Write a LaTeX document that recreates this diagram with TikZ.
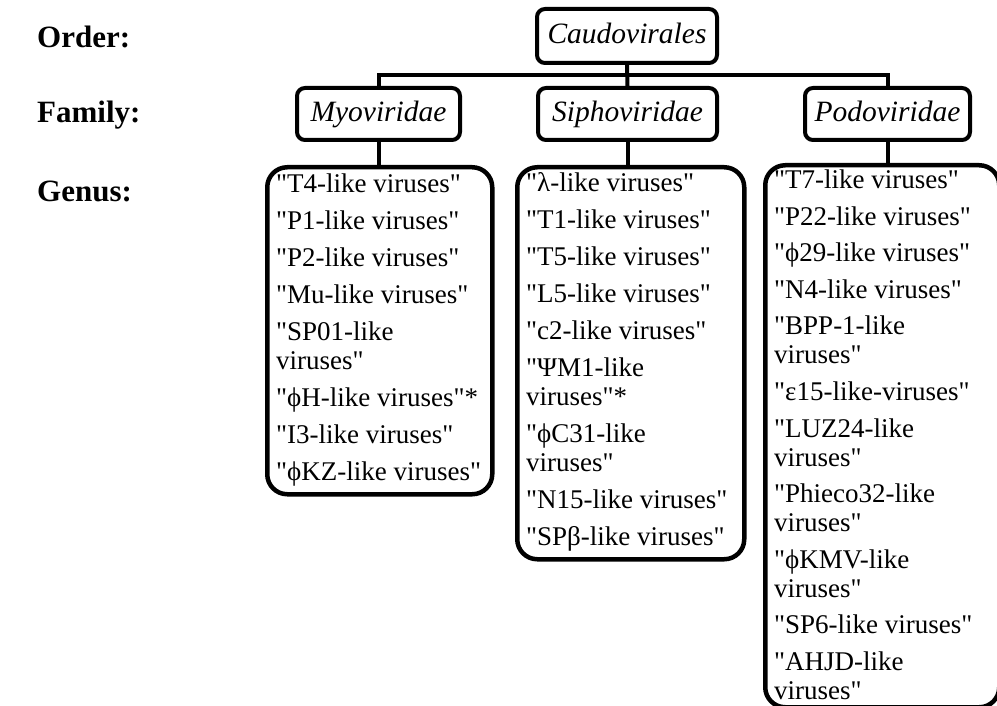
\documentclass[tikz,border=0pt]{standalone}
\usepackage{fontspec}
\setmainfont{Liberation Serif}[Ligatures=TeXOff]
\begin{document}
\begin{tikzpicture}[x=1pt,y=-1pt,
  taxbox/.style={draw,line width=4pt,rounded corners=8pt,minimum height=52pt,
    inner sep=0pt,text height=21pt,text depth=6pt,
    font=\fontsize{29.5}{33}\selectfont\itshape},
  genusbox/.style={draw,line width=4.5pt,rounded corners=20pt,anchor=north west,inner sep=0pt},
  genuslist/.style={anchor=north west,inner sep=0pt,align=left,
    font=\fontsize{27}{29}\selectfont},
  rank/.style={anchor=west,inner sep=0pt,font=\fontsize{31}{34}\selectfont\bfseries},
  link/.style={line width=4pt}]
\useasboundingbox (0,0) rectangle (997,706);

% rank labels
\node[rank] (order)  at (37,37)  {Order:};
\node[rank] (family) at (37,115) {Family:};
\node[rank] (genus)  at (37,191) {Genus:};

% order and families
\node[taxbox,minimum width=180pt,minimum height=54pt] (caudo) at (627,36) {Caudovirales};
\node[taxbox,minimum width=163pt] (myo)   at (378.5,114) {Myoviridae};
\node[taxbox,minimum width=179pt] (sipho) at (627.5,114) {Siphoviridae};
\node[taxbox,minimum width=165pt] (podo)  at (887.5,114) {Podoviridae};

% genus frames
\node[genusbox,minimum width=225pt,minimum height=327pt] (myogen)   at (265,165) {};
\node[genusbox,minimum width=227pt,minimum height=392pt] (siphogen) at (515,165) {};
\node[genusbox,minimum width=234pt,minimum height=542pt] (podogen)  at (763,163) {};

% tree connectors
\draw[link] (caudo.south) -- (sipho.north);
\draw[link] (myo.north) -- ++(0,-11) -| (podo.north);
\draw[link] (myo.south) -- (myo.south |- myogen.north);
\draw[link] (sipho.south) -- (sipho.south |- siphogen.north);
\draw[link] (podo.south) -- (podo.south |- podogen.north);

% genus lists
\node[genuslist] (myolist) at (276,172) {\strut"T4-like viruses"\\[8pt]
"P1-like viruses"\\[8pt]
"P2-like viruses"\\[8pt]
"Mu-like viruses"\\[8pt]
"SP01-like\\
viruses"\\[8pt]
"ϕH-like viruses"*\\[8pt]
"I3-like viruses"\\[8pt]
"ϕKZ-like viruses"};

\node[genuslist] (sipholist) at (526,171) {\strut"λ-like viruses"\\[8pt]
"T1-like viruses"\\[8pt]
"T5-like viruses"\\[8pt]
"L5-like viruses"\\[8pt]
"c2-like viruses"\\[8pt]
"ΨM1-like\\
viruses"*\\[8pt]
"ϕC31-like\\
viruses"\\[8pt]
"N15-like viruses"\\[8pt]
"SPβ-like viruses"};

\node[genuslist] (podolist) at (774,168) {\strut"T7-like viruses"\\[7.6pt]
"P22-like viruses"\\[7.6pt]
"ϕ29-like viruses"\\[7.6pt]
"N4-like viruses"\\[7.6pt]
"BPP-1-like\\
viruses"\\[7.6pt]
"ε15-like-viruses"\\[7.6pt]
"LUZ24-like\\
viruses"\\[7.6pt]
"Phieco32-like\\
viruses"\\[7.6pt]
"ϕKMV-like\\
viruses"\\[7.6pt]
"SP6-like viruses"\\[7.6pt]
"AHJD-like\\
viruses"};
\end{tikzpicture}
\end{document}
